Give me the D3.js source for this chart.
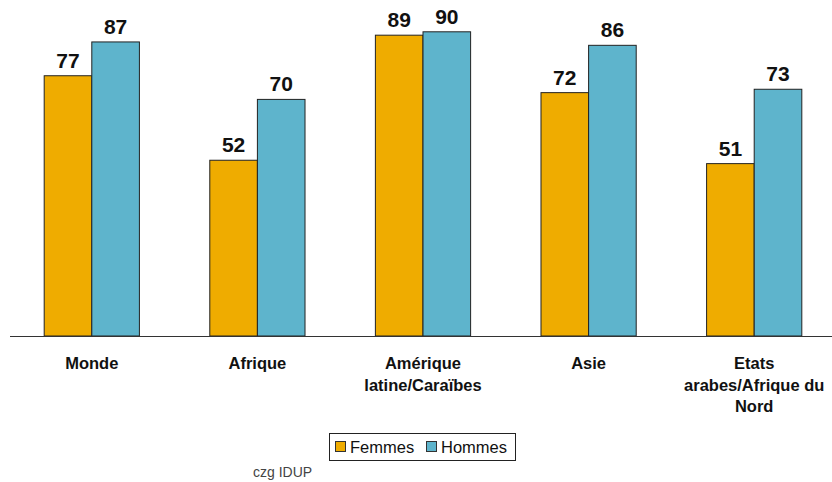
<!DOCTYPE html>
<html><head><meta charset="utf-8">
<script src="https://cdn.jsdelivr.net/npm/d3@7"></script>
<style>body{margin:0;background:#fff}svg{display:block;font-family:"Liberation Sans",Arial,sans-serif}</style>
</head><body><div id="c"></div>
<script>
const categories = [["Monde"],["Afrique"],["Amérique","latine/Caraïbes"],["Asie"],["Etats","arabes/Afrique du","Nord"]];
const seriesNames = ["Femmes","Hommes"];
const femmes = [77,52,89,72,51];
const hommes = [87,70,90,86,73];
const colors = ["#EFAC00","#5EB4CC"];

const W=832,H=482;
const svg=d3.select("#c").append("svg").attr("width",W).attr("height",H);
const x=d3.scaleBand().domain(d3.range(categories.length)).range([9,837]).paddingInner(0.425).paddingOuter(0.2125);
const xs=d3.scaleBand().domain(seriesNames).range([0,x.bandwidth()]);
const y=d3.scaleLinear().domain([0,100]).range([336,-2]);
const data=[femmes,hommes];

seriesNames.forEach((s,si)=>{
  const g=svg.append("g");
  g.selectAll("rect").data(data[si]).join("rect")
    .attr("x",(d,i)=>x(i)+xs(s)).attr("y",d=>y(d))
    .attr("width",xs.bandwidth()).attr("height",d=>y(0)-y(d))
    .attr("fill",colors[si]).attr("stroke","#222").attr("stroke-width",1);
  g.selectAll("text").data(data[si]).join("text")
    .attr("x",(d,i)=>x(i)+xs(s)+xs.bandwidth()/2).attr("y",d=>y(d)-8)
    .attr("text-anchor","middle").attr("font-weight","bold").attr("font-size",21).attr("fill","#111")
    .text(d=>d);
});
svg.append("line").attr("x1",10).attr("x2",832).attr("y1",y(0)+0.5).attr("y2",y(0)+0.5).attr("stroke","#333");

const cl=svg.append("g");
categories.forEach((lines,i)=>{
  const t=cl.append("text").attr("text-anchor","middle").attr("font-weight","bold").attr("font-size",16.5).attr("fill","#111");
  lines.forEach((l,j)=>t.append("tspan").attr("x",x(i)+x.bandwidth()/2).attr("y",369+j*21.5).text(l));
});

const lg=svg.append("g");
lg.append("rect").attr("x",329.5).attr("y",433.5).attr("width",186).attr("height",27).attr("fill","#fff").attr("stroke","#222");
const items=[{n:"Femmes",x:335},{n:"Hommes",x:426}];
items.forEach((it,i)=>{
  lg.append("rect").attr("x",it.x+0.5).attr("y",441.5).attr("width",10).attr("height",10).attr("fill",colors[i]).attr("stroke","#333");
  lg.append("text").attr("x",it.x+15).attr("y",453).attr("font-size",16.5).attr("fill","#111").text(it.n);
});
svg.append("text").attr("x",253).attr("y",477).attr("font-size",14).attr("fill","#444").text("czg IDUP");
</script></body></html>
